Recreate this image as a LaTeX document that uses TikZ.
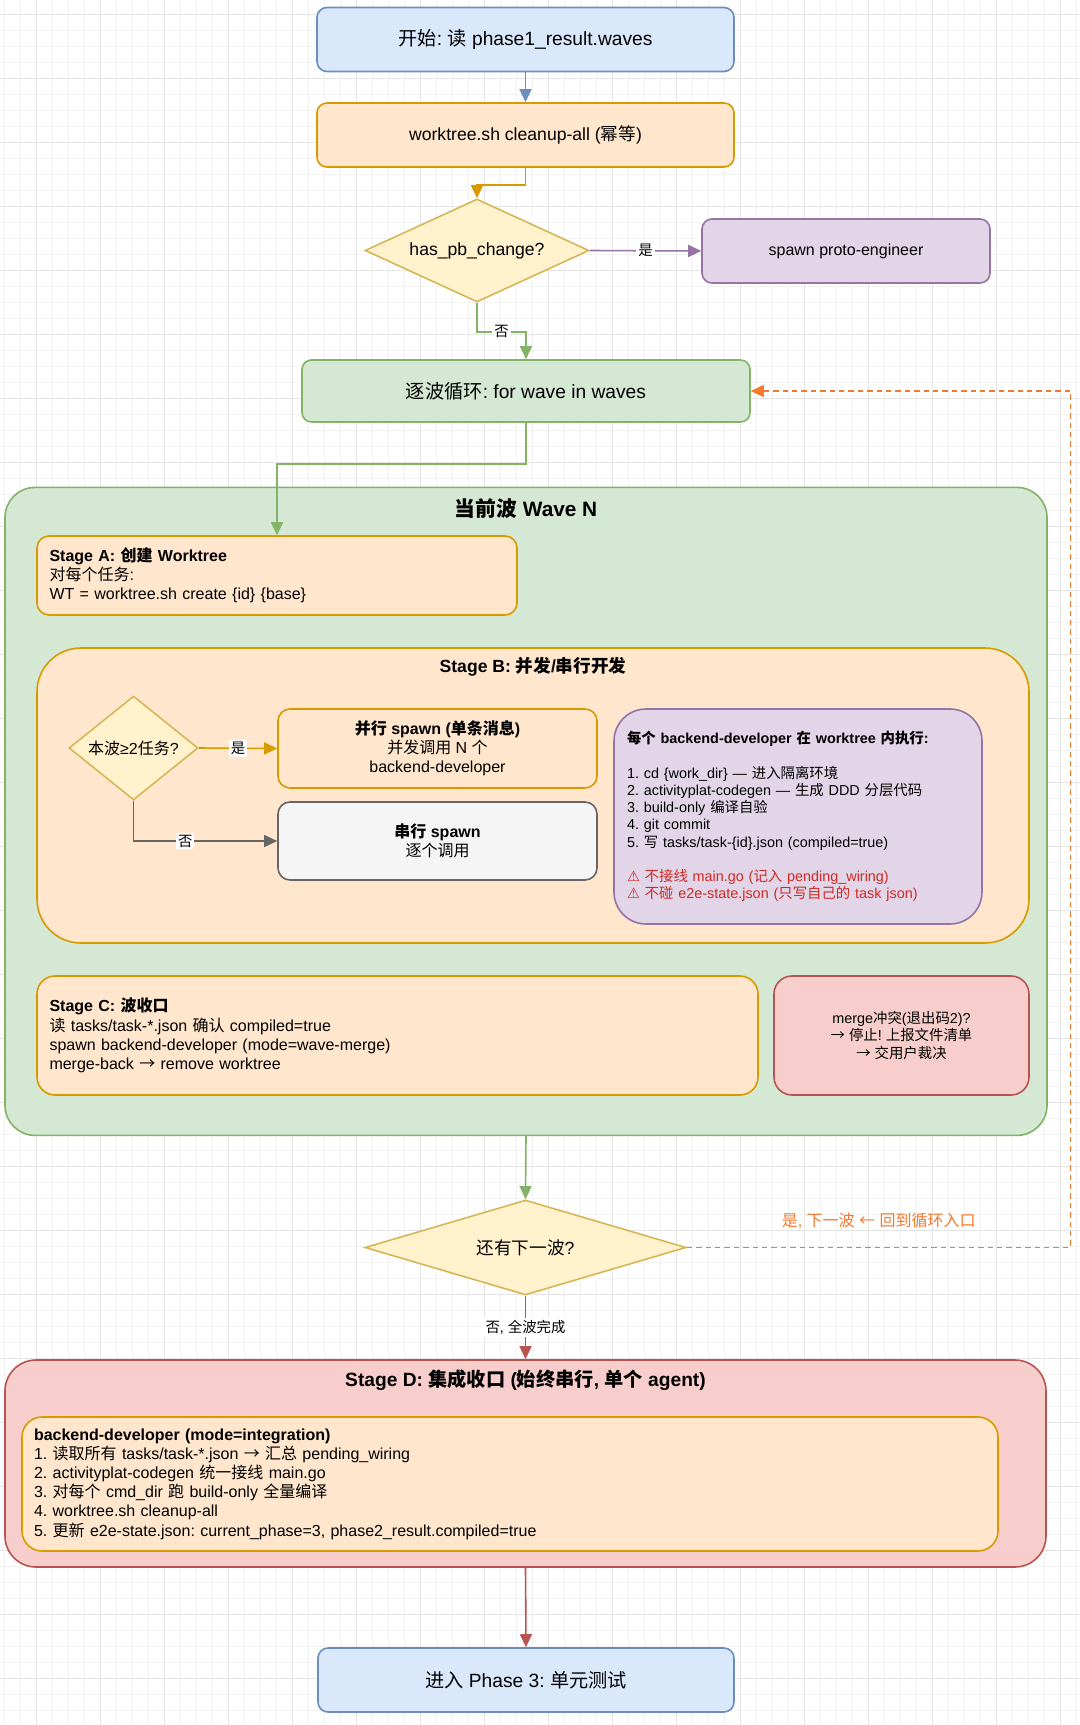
\documentclass[tikz,border=0pt]{standalone}
\usepackage{fontspec}
\usetikzlibrary{shapes.geometric,arrows.meta,calc}
\setmainfont{Liberation Sans}
\newfontfamily\cjkfam{Noto Sans CJK SC}
\newfontfamily\symfam{DejaVu Sans}
\newXeTeXintercharclass\CJKcls
\newcount\cjkcnt
\cjkcnt="3000 \loop \XeTeXcharclass\cjkcnt=\CJKcls \ifnum\cjkcnt<"303F \advance\cjkcnt by 1 \repeat
\cjkcnt="4E00 \loop \XeTeXcharclass\cjkcnt=\CJKcls \ifnum\cjkcnt<"9FFF \advance\cjkcnt by 1 \repeat
\cjkcnt="FF00 \loop \XeTeXcharclass\cjkcnt=\CJKcls \ifnum\cjkcnt<"FFEF \advance\cjkcnt by 1 \repeat
\XeTeXcharclass"2190=\CJKcls
\XeTeXcharclass"2192=\CJKcls
\XeTeXinterchartoks 0 \CJKcls = {\cjkfam}
\XeTeXinterchartoks 4095 \CJKcls = {\cjkfam}
\XeTeXinterchartoks \CJKcls 0 = {\rmfamily}
\XeTeXinterchartoks \CJKcls 4095 = {\rmfamily}
\XeTeXinterchartokenstate=1
\frenchspacing

\newcommand\Fxiii{\fontsize{10.4pt}{12.48pt}\selectfont}
\newcommand\Fxii{\fontsize{9.6pt}{11.52pt}\selectfont}
\newcommand\Fxi{\fontsize{8.8pt}{10.56pt}\selectfont}
\newcommand\Fx{\fontsize{8pt}{9.6pt}\selectfont}
\newcommand\Fix{\fontsize{7.2pt}{8.64pt}\selectfont}
\newcommand\warnsym{{\symfam ⚠}}

\definecolor{bfill}{HTML}{DAE8FC}\definecolor{bline}{HTML}{6C8EBF}
\definecolor{ofill}{HTML}{FFE6CC}\definecolor{oline}{HTML}{D79B00}
\definecolor{yfill}{HTML}{FFF2CC}\definecolor{yline}{HTML}{D6B656}
\definecolor{gfill}{HTML}{D5E8D4}\definecolor{gline}{HTML}{82B366}
\definecolor{pfill}{HTML}{E1D5E7}\definecolor{pline}{HTML}{9673A6}
\definecolor{rfill}{HTML}{F8CECC}\definecolor{rline}{HTML}{B85450}
\definecolor{gyfill}{HTML}{F5F5F5}\definecolor{gyline}{HTML}{666666}
\definecolor{dorange}{HTML}{F5782F}
\definecolor{warn}{HTML}{CC2A25}
\definecolor{gridmin}{HTML}{F3F3F3}\definecolor{gridmaj}{HTML}{E4E4E4}

\tikzset{
  bx/.style={draw, line width=0.8pt, inner sep=0pt, align=center, text=black},
  cblue/.style={bx, fill=bfill, draw=bline},
  corange/.style={bx, fill=ofill, draw=oline},
  cyellow/.style={bx, fill=yfill, draw=yline, diamond},
  cgreen/.style={bx, fill=gfill, draw=gline},
  cpurple/.style={bx, fill=pfill, draw=pline},
  cred/.style={bx, fill=rfill, draw=rline},
  cgray/.style={bx, fill=gyfill, draw=gyline},
  leftbox/.style={align=left, text width=#1},
  ttl/.style={font=\bfseries, inner sep=0pt, text=black},
  conn/.style={line width=0.8pt, -{Triangle[length=6.5pt,width=6pt]}},
  cblueline/.style={conn, draw=bline},
  cgoldline/.style={conn, draw=oline},
  cpurpleline/.style={conn, draw=pline},
  cgreenline/.style={conn, draw=gline},
  cgrayline/.style={conn, draw=gyline},
  credline/.style={conn, draw=rline},
  corangeline/.style={line width=0.8pt, draw=dorange, dash pattern=on 2.7pt off 2pt, -{Triangle[length=6.5pt,width=6pt,sep=0pt]}},
  elab/.style={fill=white, inner sep=1pt, font=\Fix, text=black},
}

\begin{document}
\begin{tikzpicture}[x=0.5pt, y=-0.5pt]
\useasboundingbox (0,0) rectangle (1080,1725);
\fill[white] (0,0) rectangle (1080,1725);
% grid
\foreach \k in {0,...,67} {\draw[gridmin, line width=0.5pt] ({4.7+16*\k},0) -- ({4.7+16*\k},1725);}
\foreach \k in {0,...,108} {\draw[gridmin, line width=0.5pt] (0,{-1.7+16*\k}) -- (1080,{-1.7+16*\k});}
\foreach \k in {0,...,16} {\draw[gridmaj, line width=0.5pt] ({36.7+64*\k},0) -- ({36.7+64*\k},1725);}
\foreach \k in {0,...,26} {\draw[gridmaj, line width=0.5pt] (0,{14.3+64*\k}) -- (1080,{14.3+64*\k});}

% containers
\node[cgreen, rounded corners=15pt, minimum width=521pt, minimum height=324pt] (waveN) at (526,811.4) {};
\node[ttl, font=\Fxiii\bfseries] (waveT) at ([yshift=-10.8pt]waveN.north) {当前波 Wave N};
\node[cred, rounded corners=15.5pt, minimum width=520.5pt, minimum height=103.5pt] (stageD) at (525.5,1463.5) {};
\node[ttl, font=\Fxii\bfseries] (stageDT) at ([yshift=-10.5pt]stageD.north) {Stage D: 集成收口 (始终串行, 单个 agent)};

% top flow
\node[cblue, rounded corners=5pt, minimum width=208.5pt, minimum height=32pt, font=\Fxii] (start) at (525.5,39.5) {开始: 读 phase1\_result.waves};
\node[corange, rounded corners=5pt, minimum width=208.5pt, minimum height=32pt, font=\Fxi] (clean) at (525.5,135) {worktree.sh cleanup-all (幂等)};
\node[cyellow, shape aspect=2.17, minimum width=112pt, minimum height=51.5pt, font=\Fxi] (q1) at (477,250.5) {has\_pb\_change?};
\node[cpurple, rounded corners=5pt, minimum width=144pt, minimum height=32pt, font=\Fx] (proto) at (846,251) {spawn proto-engineer};
\node[cgreen, rounded corners=4.7pt, minimum width=224pt, minimum height=31pt, font=\Fxii] (loop) at (526,391) {逐波循环: for wave in waves};

% Stage A
\node[corange, rounded corners=6pt, minimum width=240pt, minimum height=39.5pt, leftbox=227.5pt, inner xsep=6.25pt, font=\Fx] (stageA) at (277,575.5)
  {\textbf{Stage A: 创建 Worktree}\\对每个任务:\\WT = worktree.sh create \{id\} \{base\}};

% Stage B
\node[corange, rounded corners=22pt, minimum width=496pt, minimum height=147.5pt] (stageB) at (533,795.5) {};
\node[ttl, font=\Fxi\bfseries] (stageBT) at ([yshift=-10pt]stageB.north) {Stage B: 并发/串行开发};
\node[cyellow, shape aspect=1.24, minimum width=64.5pt, minimum height=52pt, font=\Fx] (q2) at (133.5,748) {本波≥2任务?};
\node[corange, rounded corners=6pt, minimum width=159.5pt, minimum height=39.5pt, font=\Fx] (par) at (437.5,748.5)
  {\textbf{并行 spawn (单条消息)}\\并发调用 N 个\\backend-developer};
\node[cgray, rounded corners=6pt, minimum width=159.5pt, minimum height=39pt, font=\Fx] (ser) at (437.5,841)
  {\textbf{串行 spawn}\\逐个调用};
\node[cpurple, rounded corners=16pt, minimum width=184pt, minimum height=107.5pt, leftbox=171pt, inner xsep=6.5pt, font=\Fix] (dev) at (798,816.5)
  {\textbf{每个 backend-developer 在 worktree 内执行:}\\\mbox{}\\1. cd \{work\_dir\} — 进入隔离环境\\2. activityplat-codegen — 生成 DDD 分层代码\\3. build-only 编译自验\\4. git commit\\5. 写 tasks/task-\{id\}.json (compiled=true)\\\mbox{}\\\textcolor{warn}{\warnsym\ 不接线 main.go (记入 pending\_wiring)}\\\textcolor{warn}{\warnsym\ 不碰 e2e-state.json (只写自己的 task json)}};

% Stage C
\node[corange, rounded corners=9pt, minimum width=360.5pt, minimum height=59.5pt, leftbox=348pt, inner xsep=6.25pt, font=\Fx] (stageC) at (397.5,1035.5)
  {\textbf{Stage C: 波收口}\\读 tasks/task-*.json 确认 compiled=true\\spawn backend-developer (mode=wave-merge)\\merge-back → remove worktree};
\node[cred, rounded corners=9pt, minimum width=127.5pt, minimum height=59.5pt, font=\Fix] (merge) at (901.5,1035.5)
  {merge冲突(退出码2)?\\→ 停止! 上报文件清单\\→ 交用户裁决};

% bottom flow
\node[cyellow, shape aspect=3.38, minimum width=160.5pt, minimum height=47.5pt, font=\Fxi] (q3) at (525.5,1247.5) {还有下一波?};
\node[corange, rounded corners=10pt, minimum width=488pt, minimum height=67pt, leftbox=476pt, inner xsep=6pt, font=\Fx] (inner) at (510,1484)
  {\textbf{backend-developer (mode=integration)}\\1. 读取所有 tasks/task-*.json → 汇总 pending\_wiring\\2. activityplat-codegen 统一接线 main.go\\3. 对每个 cmd\_dir 跑 build-only 全量编译\\4. worktree.sh cleanup-all\\5. 更新 e2e-state.json: current\_phase=3, phase2\_result.compiled=true};
\node[cblue, rounded corners=5pt, minimum width=208pt, minimum height=32pt, font=\Fxii] (end) at (526,1680) {进入 Phase 3: 单元测试};

% connectors
\draw[cblueline] (start.south) -- (clean.north);
\draw[cgoldline] (clean.south) -- ++(0,17) -| (q1.north);
\draw[cpurpleline] (q1.east) -- node[elab]{是} (proto.west);
\draw[cgreenline] (q1.south) -- ++(0,29) -| node[elab, pos=0.25]{否} (loop.north);
\draw[cgreenline] (loop.south) -- ++(0,41) -| (stageA.north);
\draw[cgoldline] (q2.east) -- node[elab]{是} (par.west);
\draw[cgrayline] (q2.south) |- node[elab, pos=0.68]{否} (ser.west);
\draw[cgreenline] (waveN.south) -- (q3.north);
\coordinate (xr) at (1070.5,391);
\draw[corangeline] (q3.east) -- node[above=9pt, inner sep=0pt, font=\Fx, text=dorange]{是, 下一波 ← 回到循环入口} (q3.east -| xr) |- (loop.east);
\draw[credline] (q3.south) -- node[elab]{否, 全波完成} (stageD.north);
\draw[credline] (stageD.south) -- (end.north);
\end{tikzpicture}
\end{document}
